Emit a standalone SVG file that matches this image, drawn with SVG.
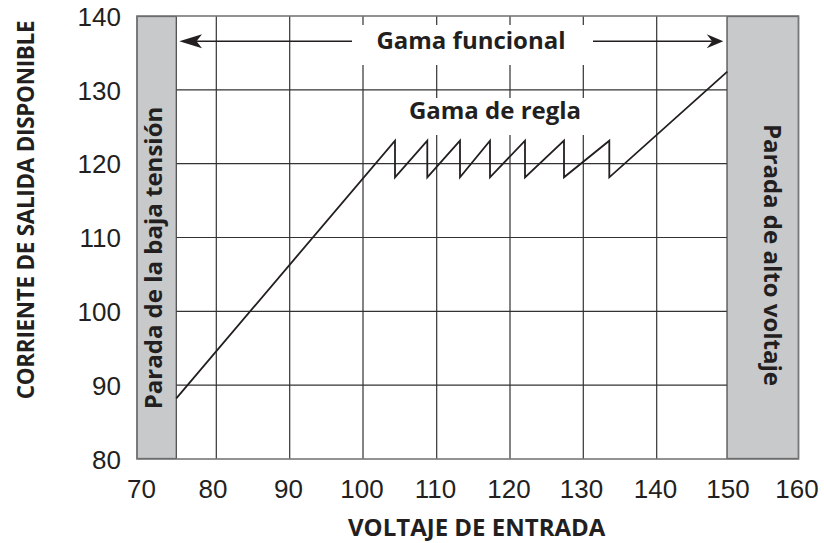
<svg xmlns="http://www.w3.org/2000/svg" width="824" height="543" viewBox="0 0 824 543">
  <style>
    .grid { stroke: #333; stroke-width: 1.2; fill: none; }
    .frame { stroke: #777; stroke-width: 1.6; fill: none; }
    .stop { fill: #c8c9cb; stroke: #444; stroke-width: 1.2; }
    .tick { font-family: "Liberation Sans", Arial, sans-serif; font-size: 26px; fill: #231f20; }
    .bold { font-family: "Open Sans", "Liberation Sans", sans-serif; font-weight: bold; font-size: 24px; fill: #231f20; }
    .curve { stroke: #231f20; stroke-width: 1.8; fill: none; stroke-linejoin: miter; }
    .arrow-line { stroke: #231f20; stroke-width: 1.4; fill: none; }
    .head { fill: #231f20; }
  </style>
  <rect width="824" height="543" fill="#fff"/>

  <g id="grid">
    <path class="grid" d="M176,89.8H727M176,163.7H727M176,237.5H727M176,311.3H727M176,385.2H727"/>
    <path class="grid" d="M216.3,16V459M289.7,16V459M363,16V459M436.7,16V459M510,16V459M583.3,16V459M656.7,16V459"/>
  </g>

  <g id="low-voltage-stop">
    <rect class="stop" x="137" y="16.5" width="39.3" height="442"/>
    <text class="bold" transform="translate(162,258) rotate(-90)" text-anchor="middle">Parada de la baja tensión</text>
  </g>

  <g id="high-voltage-stop">
    <rect class="stop" x="727" y="16.5" width="71.5" height="442"/>
    <text class="bold" transform="translate(764,255) rotate(90)" text-anchor="middle">Parada de alto voltaje</text>
  </g>

  <rect id="frame" class="frame" x="137" y="16" width="661.5" height="443"/>

  <g id="functional-range">
    <rect x="352" y="25" width="241" height="40" fill="#fff"/>
    <text class="bold" x="471" y="49" text-anchor="middle">Gama funcional</text>
  </g>

  <g id="regulation-range">
    <rect x="399" y="98" width="194" height="37" fill="#fff"/>
    <text class="bold" x="495" y="119" text-anchor="middle">Gama de regla</text>
  </g>

  <g id="connectors">
    <path class="arrow-line" d="M190,41.3H352M593,41.3H712"/>
    <path class="head" d="M179.3,41.3L202,34.3L196.5,41.3L202,48.3Z"/>
    <path class="head" d="M723.3,41.3L706.7,34.3L712.2,41.3L706.7,48.3Z"/>
  </g>

  <g id="current-curve">
    <path class="curve" d="M176.3,398.3L395,140.7V177.3L427.3,140.7V177.3L460,140.7V177.3L490,140.7V177.3L525,140.7V177.3L564,140.7V177.3L609.3,140.7V177.3L727.3,71.7"/>
  </g>

  <g id="y-axis">
    <g class="tick" text-anchor="end">
      <text x="121" y="26">140</text>
      <text x="121" y="99.5">130</text>
      <text x="121" y="173.3">120</text>
      <text x="121" y="247">110</text>
      <text x="121" y="321">100</text>
      <text x="121" y="395">90</text>
      <text x="121" y="468.5">80</text>
    </g>
    <text class="bold" transform="translate(34,210) rotate(-90)" text-anchor="middle" style="font-size:22.5px;letter-spacing:-0.3px">CORRIENTE DE SALIDA DISPONIBLE</text>
  </g>

  <g id="x-axis">
    <g class="tick" text-anchor="middle">
      <text x="141.5" y="498">70</text>
      <text x="213" y="498">80</text>
      <text x="288.5" y="498">90</text>
      <text x="362" y="498">100</text>
      <text x="435.5" y="498">110</text>
      <text x="509" y="498">120</text>
      <text x="581.5" y="498">130</text>
      <text x="655.5" y="498">140</text>
      <text x="728" y="498">150</text>
      <text x="797" y="498">160</text>
    </g>
    <text class="bold" x="476.7" y="535.5" text-anchor="middle">VOLTAJE DE ENTRADA</text>
  </g>
</svg>
